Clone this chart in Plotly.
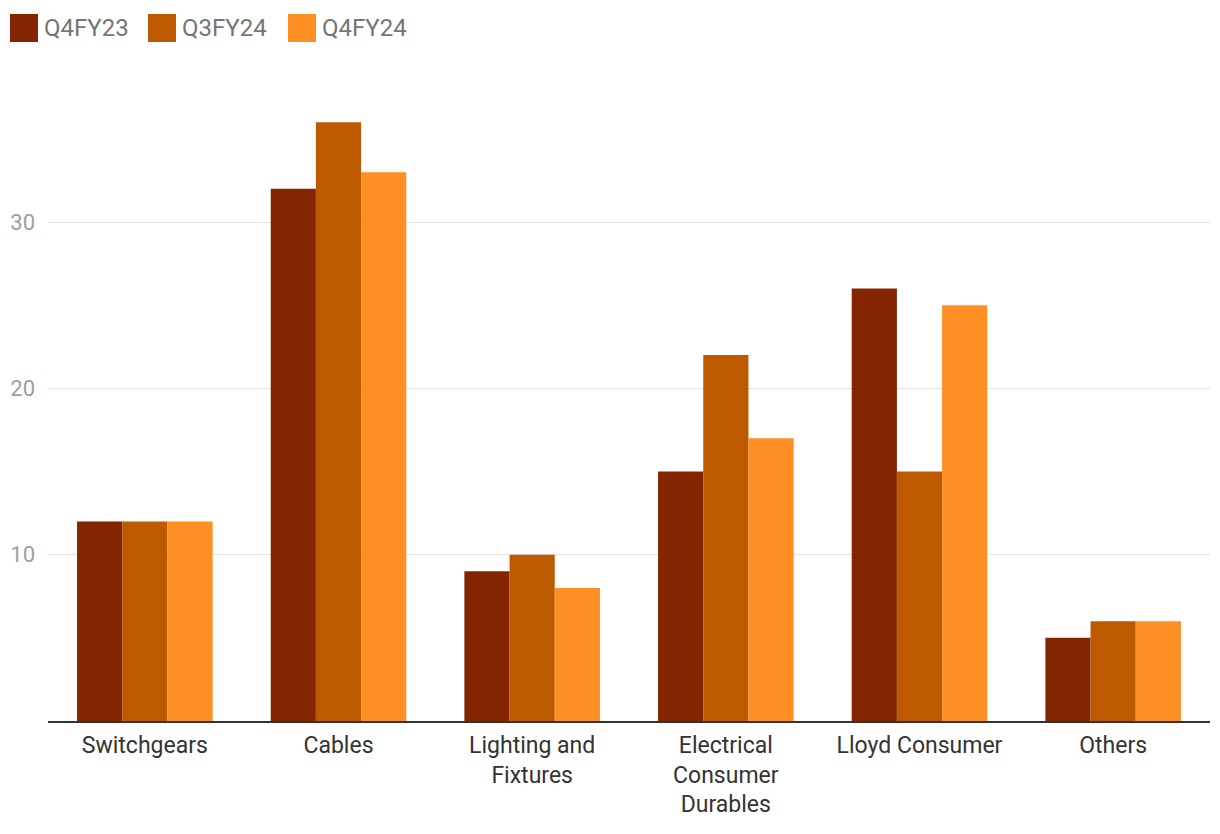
import plotly.graph_objects as go

categories = ["Switchgears", "Cables", "Lighting and<br>Fixtures",
              "Electrical<br>Consumer<br>Durables", "Lloyd Consumer", "Others"]
series_names = ["Q4FY23", "Q3FY24", "Q4FY24"]
q4fy23 = [12, 32, 9, 15, 26, 5]
q3fy24 = [12, 36, 10, 22, 15, 6]
q4fy24 = [12, 33, 8, 17, 25, 6]
series_values = [q4fy23, q3fy24, q4fy24]
colors = ["#832600", "#BD5A00", "#FD8F25"]
y_ticks = [10, 20, 30]

# the page body has an 8px margin; figure is sized to fit the window
OFF = 8
W, H = 1220 - OFF, 834 - OFF
ML, MR, MT, MB = 48 - OFF, 10, 89 - OFF, 113
PW, PH = W - ML - MR, H - MT - MB


def px_x(px):
    return (px - OFF - ML) / PW


def px_y(py):
    return (H - MB - (py - OFF)) / PH


fig = go.Figure()
for name, vals, col in zip(series_names, series_values, colors):
    fig.add_trace(go.Bar(x=categories, y=vals, name=name, marker_color=col,
                         marker_line_width=0, showlegend=False))

# custom legend (large squares)
legend_x = [10, 148, 288]
for lx, name, col in zip(legend_x, series_names, colors):
    fig.add_shape(type="rect", xref="paper", yref="paper",
                  x0=px_x(lx), x1=px_x(lx + 28), y0=px_y(42), y1=px_y(14),
                  fillcolor=col, line_width=0)
    fig.add_annotation(xref="paper", yref="paper", x=px_x(lx + 32), y=px_y(28),
                       text=name, showarrow=False, xanchor="left", yanchor="middle",
                       font=dict(family="Roboto", size=24, color="#757575"))

fig.update_layout(
    width=W, height=H,
    margin=dict(l=ML, r=MR, t=MT, b=MB, autoexpand=False),
    barmode="group", bargap=0.3, bargroupgap=0,
    paper_bgcolor="white", plot_bgcolor="white",
    font=dict(family="Roboto", size=22, color="#333333"),
    xaxis=dict(showline=True, linecolor="#333333", linewidth=2, showgrid=False,
               tickfont=dict(size=23, color="#333333"), ticks="",
               ticklabelstandoff=2, automargin=False),
    yaxis=dict(range=[0, 38], tickvals=y_ticks, showgrid=True, gridcolor="#e3e3e3",
               gridwidth=1, zeroline=False, showline=False, ticks="",
               tickfont=dict(size=22, color="#9e9e9e"), ticklabelstandoff=12,
               automargin=False),
)

fig.write_html("out.html")
